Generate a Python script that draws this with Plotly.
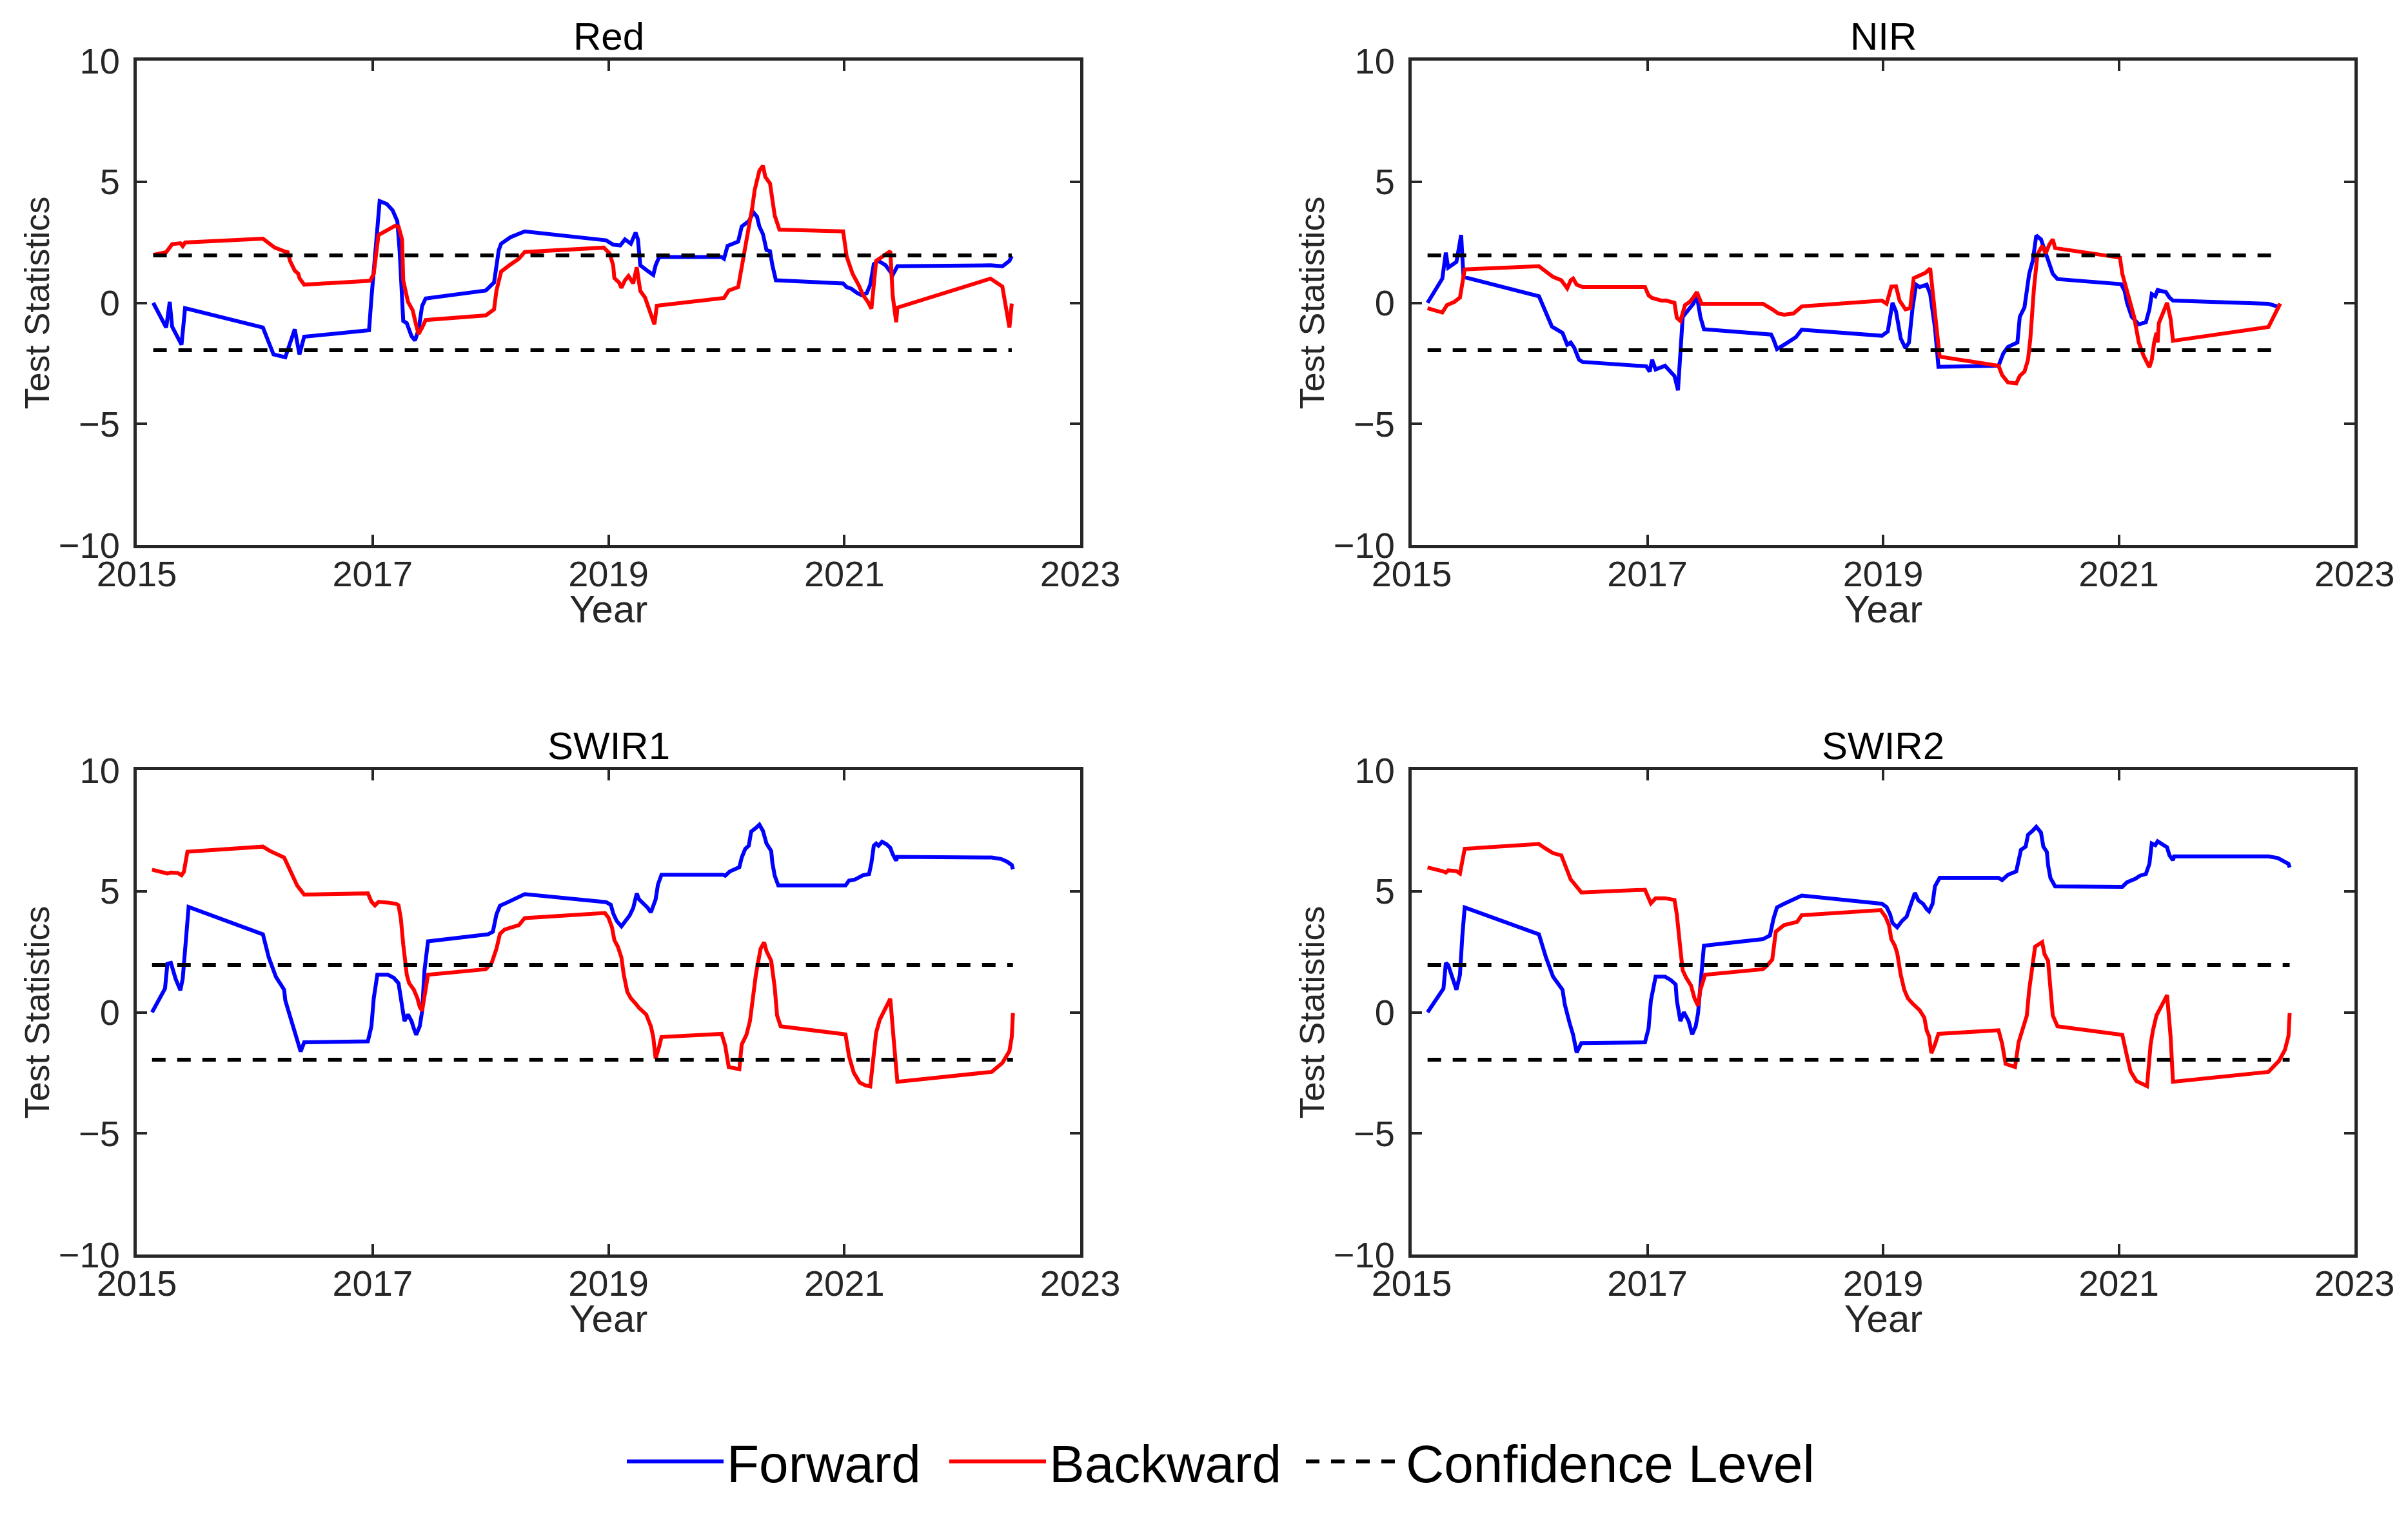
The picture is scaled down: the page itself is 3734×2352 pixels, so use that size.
import plotly.graph_objects as go

# ---------------- data (decimal year, test statistic) ----------------
PANEL_TITLES = ["Red", "NIR", "SWIR1", "SWIR2"]
SERIES_NAMES = ["Forward", "Backward", "Confidence Level"]
CONFIDENCE_LEVEL = 1.96
X_TICKS = [2015, 2017, 2019, 2021, 2023]
Y_TICKS = [-10, -5, 0, 5, 10]

RED_FORWARD = [
    (2015.14, 0.0), (2015.25, -1.02), (2015.28, 0.04), (2015.30, -0.98), (2015.38, -1.73), (2015.41, -0.22),
    (2016.07, -1.02), (2016.16, -2.13), (2016.26, -2.25), (2016.34, -1.09), (2016.38, -2.13), (2016.42, -1.40),
    (2016.97, -1.13), (2016.99, 0.18), (2017.06, 4.2), (2017.12, 4.08), (2017.17, 3.82), (2017.21, 3.37),
    (2017.23, 2.09), (2017.26, -0.75), (2017.29, -0.84), (2017.33, -1.38), (2017.36, -1.55), (2017.39, -1.11),
    (2017.42, -0.13), (2017.45, 0.18), (2017.96, 0.51), (2018.03, 0.84), (2018.07, 2.18), (2018.09, 2.44),
    (2018.17, 2.71), (2018.29, 2.95), (2018.98, 2.58), (2019.04, 2.4), (2019.10, 2.37), (2019.14, 2.62),
    (2019.19, 2.44), (2019.23, 2.9), (2019.25, 2.62), (2019.27, 1.55), (2019.34, 1.29), (2019.38, 1.15),
    (2019.40, 1.55), (2019.43, 1.89), (2019.96, 1.89), (2019.98, 1.82), (2020.01, 2.35), (2020.04, 2.42),
    (2020.10, 2.53), (2020.13, 3.15), (2020.19, 3.37), (2020.23, 3.73), (2020.26, 3.55), (2020.28, 3.15),
    (2020.31, 2.84), (2020.34, 2.18), (2020.37, 2.13), (2020.39, 1.55), (2020.42, 0.93), (2020.99, 0.8),
    (2021.02, 0.65), (2021.06, 0.58), (2021.11, 0.40), (2021.15, 0.31), (2021.19, 0.40), (2021.22, 0.75),
    (2021.25, 1.6), (2021.29, 1.73), (2021.35, 1.55), (2021.41, 1.15), (2021.45, 1.51), (2022.24, 1.55),
    (2022.34, 1.51), (2022.40, 1.73), (2022.42, 1.93),
]
RED_BACKWARD = [
    (2015.14, 1.98), (2015.25, 2.09), (2015.30, 2.42), (2015.37, 2.46), (2015.39, 2.34), (2015.41, 2.49),
    (2016.07, 2.65), (2016.17, 2.28), (2016.25, 2.13), (2016.28, 2.09), (2016.30, 1.73), (2016.34, 1.33),
    (2016.37, 1.2), (2016.38, 1.02), (2016.42, 0.75), (2016.98, 0.91), (2017.01, 1.2), (2017.05, 2.8),
    (2017.19, 3.18), (2017.22, 3.15), (2017.25, 2.62), (2017.26, 0.93), (2017.30, 0.04), (2017.34, -0.31),
    (2017.37, -0.93), (2017.39, -1.29), (2017.42, -1.02), (2017.45, -0.71), (2017.96, -0.52), (2018.03, -0.27),
    (2018.05, 0.49), (2018.09, 1.29), (2018.16, 1.55), (2018.24, 1.82), (2018.29, 2.1), (2018.96, 2.28),
    (2019.01, 2.04), (2019.04, 1.55), (2019.05, 1.02), (2019.09, 0.84), (2019.11, 0.62), (2019.14, 0.93),
    (2019.17, 1.11), (2019.21, 0.80), (2019.24, 1.47), (2019.27, 0.49), (2019.31, 0.22), (2019.35, -0.40),
    (2019.39, -0.89), (2019.41, -0.12), (2019.98, 0.20), (2020.02, 0.51), (2020.10, 0.65), (2020.13, 1.47),
    (2020.16, 2.26), (2020.19, 3.06), (2020.22, 3.95), (2020.24, 4.66), (2020.28, 5.46), (2020.31, 5.66),
    (2020.33, 5.2), (2020.37, 4.93), (2020.39, 4.22), (2020.41, 3.6), (2020.45, 3.02), (2020.99, 2.95),
    (2021.02, 1.91), (2021.07, 1.2), (2021.12, 0.75), (2021.16, 0.31), (2021.20, 0.04), (2021.23, -0.24),
    (2021.27, 1.73), (2021.33, 1.93), (2021.39, 2.13), (2021.41, 0.31), (2021.44, -0.8), (2021.45, -0.2),
    (2022.24, 1.0), (2022.34, 0.67), (2022.40, -1.02), (2022.42, -0.03),
]

NIR_FORWARD = [
    (2015.135, 0.0), (2015.26, 1.0), (2015.29, 2.07), (2015.31, 1.45), (2015.38, 1.69), (2015.42, 2.80),
    (2015.44, 1.07), (2016.08, 0.27), (2016.19, -0.98), (2016.28, -1.24), (2016.32, -1.73), (2016.35, -1.64),
    (2016.38, -1.86), (2016.42, -2.35), (2016.45, -2.44), (2016.99, -2.62), (2017.02, -2.84), (2017.04, -2.35),
    (2017.07, -2.75), (2017.15, -2.6), (2017.23, -3.02), (2017.26, -3.61), (2017.30, -0.58), (2017.34, -0.36),
    (2017.39, -0.04), (2017.42, 0.29), (2017.45, -0.58), (2017.48, -1.09), (2018.05, -1.31), (2018.07, -1.51),
    (2018.10, -1.91), (2018.19, -1.64), (2018.26, -1.42), (2018.31, -1.11), (2018.99, -1.36), (2019.04, -1.18),
    (2019.06, -0.44), (2019.08, 0.0), (2019.11, -0.36), (2019.15, -1.47), (2019.19, -1.87), (2019.22, -1.64),
    (2019.25, -0.22), (2019.28, 0.75), (2019.31, 0.65), (2019.37, 0.75), (2019.40, 0.36), (2019.44, -1.02),
    (2019.47, -2.64), (2019.98, -2.6), (2020.02, -2.09), (2020.06, -1.82), (2020.14, -1.64), (2020.16, -0.58),
    (2020.20, -0.18), (2020.24, 1.2), (2020.27, 1.73), (2020.30, 2.78), (2020.34, 2.62), (2020.38, 2.09),
    (2020.40, 1.73), (2020.44, 1.2), (2020.48, 0.98), (2021.02, 0.77), (2021.05, 0.49), (2021.07, 0.0),
    (2021.11, -0.58), (2021.17, -0.89), (2021.23, -0.8), (2021.26, -0.27), (2021.28, 0.36), (2021.31, 0.27),
    (2021.33, 0.53), (2021.40, 0.44), (2021.43, 0.22), (2021.46, 0.09), (2022.27, -0.04), (2022.37, -0.18),
]
NIR_BACKWARD = [
    (2015.135, -0.22), (2015.26, -0.40), (2015.30, -0.09), (2015.36, 0.03), (2015.41, 0.22), (2015.43, 0.75),
    (2015.45, 1.38), (2016.08, 1.51), (2016.14, 1.29), (2016.20, 1.07), (2016.27, 0.93), (2016.32, 0.6),
    (2016.35, 0.93), (2016.37, 1.0), (2016.40, 0.75), (2016.45, 0.65), (2016.98, 0.65), (2017.01, 0.31),
    (2017.04, 0.20), (2017.12, 0.09), (2017.16, 0.09), (2017.23, 0.0), (2017.25, -0.62), (2017.28, -0.75),
    (2017.32, -0.09), (2017.36, 0.04), (2017.39, 0.22), (2017.42, 0.44), (2017.46, -0.04), (2017.98, -0.04),
    (2018.06, -0.27), (2018.11, -0.44), (2018.16, -0.49), (2018.24, -0.44), (2018.31, -0.15), (2018.99, 0.09),
    (2019.03, -0.04), (2019.07, 0.67), (2019.11, 0.68), (2019.14, 0.09), (2019.19, -0.27), (2019.23, -0.22),
    (2019.26, 1.02), (2019.31, 1.13), (2019.36, 1.24), (2019.40, 1.42), (2019.42, 0.49), (2019.45, -1.02),
    (2019.48, -2.22), (2019.98, -2.6), (2020.01, -2.98), (2020.06, -3.29), (2020.13, -3.33), (2020.16, -3.02),
    (2020.20, -2.84), (2020.23, -2.35), (2020.25, -1.47), (2020.28, 0.58), (2020.31, 2.0), (2020.35, 2.35),
    (2020.38, 2.04), (2020.41, 2.4), (2020.44, 2.62), (2020.46, 2.26), (2021.01, 1.87), (2021.03, 1.2),
    (2021.06, 0.67), (2021.13, -0.58), (2021.17, -1.64), (2021.21, -2.18), (2021.26, -2.66), (2021.28, -2.35),
    (2021.30, -1.64), (2021.32, -1.24), (2021.33, -1.64), (2021.34, -0.84), (2021.41, 0.0), (2021.44, -0.67),
    (2021.46, -1.57), (2022.27, -1.0), (2022.37, -0.03),
]

SWIR1_FORWARD = [
    (2015.13, 0.0), (2015.21, 0.67), (2015.24, 0.98), (2015.26, 2.0), (2015.29, 2.04), (2015.33, 1.38),
    (2015.37, 0.91), (2015.39, 1.38), (2015.42, 3.15), (2015.44, 4.35), (2016.07, 3.22), (2016.12, 2.26),
    (2016.18, 1.47), (2016.25, 0.93), (2016.26, 0.49), (2016.29, 0.0), (2016.31, -0.44), (2016.34, -0.84),
    (2016.36, -1.24), (2016.39, -1.62), (2016.42, -1.24), (2016.96, -1.2), (2016.99, -0.58), (2017.01, 0.58),
    (2017.04, 1.55), (2017.13, 1.55), (2017.18, 1.42), (2017.22, 1.2), (2017.24, 0.58), (2017.27, -0.36),
    (2017.30, -0.09), (2017.33, -0.36), (2017.35, -0.67), (2017.37, -0.93), (2017.40, -0.58), (2017.42, 0.04),
    (2017.44, 1.73), (2017.47, 2.93), (2017.98, 3.22), (2018.02, 3.33), (2018.05, 4.04), (2018.08, 4.40),
    (2018.14, 4.53), (2018.29, 4.88), (2018.98, 4.55), (2019.02, 4.44), (2019.04, 4.09), (2019.07, 3.77),
    (2019.11, 3.55), (2019.15, 3.82), (2019.18, 4.0), (2019.21, 4.31), (2019.24, 4.91), (2019.26, 4.66),
    (2019.29, 4.53), (2019.33, 4.33), (2019.36, 4.13), (2019.38, 4.35), (2019.40, 4.66), (2019.42, 5.28),
    (2019.45, 5.68), (2019.97, 5.68), (2019.99, 5.64), (2020.03, 5.82), (2020.07, 5.89), (2020.11, 5.99),
    (2020.13, 6.39), (2020.16, 6.75), (2020.19, 6.88), (2020.21, 7.46), (2020.25, 7.61), (2020.28, 7.75),
    (2020.31, 7.49), (2020.34, 6.97), (2020.38, 6.66), (2020.39, 6.17), (2020.41, 5.64), (2020.44, 5.24),
    (2021.01, 5.24), (2021.04, 5.44), (2021.09, 5.48), (2021.16, 5.66), (2021.21, 5.71), (2021.23, 6.17),
    (2021.25, 6.88), (2021.27, 6.97), (2021.29, 6.88), (2021.32, 7.04), (2021.36, 6.93), (2021.39, 6.79),
    (2021.41, 6.53), (2021.44, 6.26), (2021.45, 6.42), (2022.25, 6.39), (2022.33, 6.33), (2022.38, 6.22),
    (2022.42, 6.08), (2022.43, 5.91),
]
SWIR1_BACKWARD = [
    (2015.13, 5.89), (2015.21, 5.80), (2015.26, 5.73), (2015.29, 5.77), (2015.35, 5.75), (2015.38, 5.66),
    (2015.40, 5.80), (2015.43, 6.63), (2016.07, 6.84), (2016.13, 6.66), (2016.19, 6.51), (2016.25, 6.39),
    (2016.28, 6.08), (2016.31, 5.73), (2016.34, 5.39), (2016.36, 5.24), (2016.38, 5.11), (2016.42, 4.86),
    (2016.96, 4.91), (2016.99, 4.57), (2017.02, 4.41), (2017.05, 4.56), (2017.13, 4.53), (2017.20, 4.48),
    (2017.22, 4.42), (2017.24, 3.86), (2017.26, 2.80), (2017.29, 1.55), (2017.31, 1.2), (2017.35, 0.93),
    (2017.38, 0.58), (2017.40, 0.22), (2017.42, 0.06), (2017.44, 0.75), (2017.47, 1.55), (2017.96, 1.78),
    (2018.01, 2.04), (2018.05, 2.62), (2018.08, 3.24), (2018.12, 3.42), (2018.24, 3.60), (2018.29, 3.89),
    (2018.97, 4.10), (2019.00, 3.91), (2019.03, 3.51), (2019.05, 2.98), (2019.08, 2.71), (2019.11, 2.26),
    (2019.13, 1.55), (2019.16, 0.84), (2019.19, 0.58), (2019.23, 0.36), (2019.26, 0.18), (2019.32, -0.09),
    (2019.36, -0.58), (2019.38, -1.02), (2019.40, -1.91), (2019.43, -1.42), (2019.45, -1.02), (2019.96, -0.89),
    (2019.99, -1.38), (2020.02, -2.26), (2020.11, -2.35), (2020.13, -1.33), (2020.17, -0.93), (2020.20, -0.36),
    (2020.23, 0.75), (2020.25, 1.55), (2020.29, 2.62), (2020.32, 2.89), (2020.34, 2.53), (2020.38, 2.13),
    (2020.41, 1.02), (2020.43, -0.13), (2020.46, -0.58), (2021.01, -0.91), (2021.04, -1.82), (2021.08, -2.49),
    (2021.13, -2.9), (2021.18, -3.02), (2021.22, -3.06), (2021.25, -1.47), (2021.27, -0.84), (2021.30, -0.31),
    (2021.39, 0.56), (2021.42, -1.2), (2021.45, -2.87), (2022.25, -2.46), (2022.34, -2.09), (2022.40, -1.6),
    (2022.42, -1.02), (2022.43, -0.03),
]

SWIR2_FORWARD = [
    (2015.135, 0.0), (2015.21, 0.53), (2015.27, 0.98), (2015.29, 2.04), (2015.31, 1.95), (2015.38, 0.93),
    (2015.41, 1.55), (2015.43, 3.15), (2015.45, 4.33), (2016.08, 3.22), (2016.14, 2.26), (2016.20, 1.47),
    (2016.28, 0.93), (2016.30, 0.31), (2016.32, 0.0), (2016.34, -0.44), (2016.37, -0.93), (2016.40, -1.66),
    (2016.44, -1.27), (2016.98, -1.24), (2017.01, -0.67), (2017.03, 0.49), (2017.07, 1.47), (2017.15, 1.47),
    (2017.20, 1.33), (2017.24, 1.15), (2017.25, 0.49), (2017.28, -0.36), (2017.31, 0.0), (2017.35, -0.36),
    (2017.38, -0.91), (2017.41, -0.58), (2017.43, -0.04), (2017.45, 1.02), (2017.48, 2.75), (2017.98, 3.02),
    (2018.04, 3.17), (2018.07, 3.86), (2018.10, 4.33), (2018.16, 4.48), (2018.31, 4.82), (2018.99, 4.48),
    (2019.03, 4.35), (2019.06, 4.04), (2019.08, 3.69), (2019.12, 3.51), (2019.16, 3.77), (2019.20, 3.95),
    (2019.23, 4.40), (2019.27, 4.93), (2019.30, 4.62), (2019.34, 4.48), (2019.37, 4.26), (2019.39, 4.17),
    (2019.42, 4.48), (2019.44, 5.2), (2019.48, 5.55), (2019.98, 5.55), (2020.01, 5.46), (2020.06, 5.68),
    (2020.13, 5.82), (2020.15, 6.26), (2020.17, 6.71), (2020.21, 6.84), (2020.23, 7.33), (2020.27, 7.50),
    (2020.30, 7.66), (2020.34, 7.42), (2020.36, 6.84), (2020.39, 6.62), (2020.40, 6.08), (2020.42, 5.55),
    (2020.46, 5.2), (2021.03, 5.18), (2021.07, 5.37), (2021.14, 5.51), (2021.18, 5.64), (2021.23, 5.71),
    (2021.26, 6.13), (2021.28, 6.97), (2021.31, 6.9), (2021.33, 7.06), (2021.38, 6.93), (2021.41, 6.81),
    (2021.43, 6.48), (2021.46, 6.28), (2021.47, 6.44), (2022.27, 6.44), (2022.35, 6.37), (2022.40, 6.24),
    (2022.44, 6.13), (2022.45, 5.98),
]
SWIR2_BACKWARD = [
    (2015.135, 5.98), (2015.21, 5.91), (2015.26, 5.83), (2015.29, 5.77), (2015.31, 5.86), (2015.38, 5.83),
    (2015.41, 5.73), (2015.45, 6.75), (2016.08, 6.95), (2016.13, 6.78), (2016.20, 6.57), (2016.27, 6.48),
    (2016.30, 6.13), (2016.33, 5.77), (2016.35, 5.48), (2016.37, 5.37), (2016.44, 4.95), (2016.98, 5.06),
    (2017.01, 4.71), (2017.03, 4.50), (2017.07, 4.71), (2017.15, 4.71), (2017.23, 4.64), (2017.25, 4.04),
    (2017.28, 2.62), (2017.30, 1.73), (2017.33, 1.42), (2017.37, 1.11), (2017.40, 0.58), (2017.43, 0.27),
    (2017.45, 0.93), (2017.49, 1.55), (2017.98, 1.78), (2018.02, 1.95), (2018.06, 2.18), (2018.09, 3.33),
    (2018.16, 3.6), (2018.27, 3.73), (2018.31, 4.01), (2018.98, 4.22), (2019.02, 3.95), (2019.05, 3.6),
    (2019.07, 3.02), (2019.10, 2.75), (2019.12, 2.44), (2019.15, 1.55), (2019.18, 0.93), (2019.21, 0.58),
    (2019.25, 0.36), (2019.31, 0.09), (2019.35, -0.22), (2019.37, -0.75), (2019.39, -0.98), (2019.41, -1.69),
    (2019.44, -1.33), (2019.47, -0.89), (2019.98, -0.74), (2020.01, -1.29), (2020.04, -2.13), (2020.12, -2.26),
    (2020.15, -1.24), (2020.19, -0.67), (2020.22, -0.13), (2020.24, 0.93), (2020.27, 2.09), (2020.29, 2.71),
    (2020.35, 2.9), (2020.37, 2.4), (2020.40, 2.13), (2020.42, 1.02), (2020.44, -0.13), (2020.48, -0.58),
    (2021.03, -0.93), (2021.07, -1.82), (2021.10, -2.44), (2021.15, -2.84), (2021.20, -2.98), (2021.24, -3.05),
    (2021.27, -1.33), (2021.29, -0.75), (2021.32, -0.13), (2021.41, 0.71), (2021.44, -1.02), (2021.46, -2.87),
    (2022.27, -2.46), (2022.36, -2.0), (2022.41, -1.55), (2022.44, -0.98), (2022.45, -0.03),
]

PANEL_DATA = [
    (RED_FORWARD, RED_BACKWARD),
    (NIR_FORWARD, NIR_BACKWARD),
    (SWIR1_FORWARD, SWIR1_BACKWARD),
    (SWIR2_FORWARD, SWIR2_BACKWARD),
]

# ---------------- layout geometry ----------------
W, H = 3734, 2352
X_DOMAINS = [[204 / W, 1667 / W], [2181 / W, 3643 / W]]
Y_DOMAINS = [[1 - 837 / H, 1 - 86 / H], [1 - 1937 / H, 1 - 1186 / H]]
FONT = "Liberation Sans, Arial, Helvetica, sans-serif"
AXIS_COLOR = "#262626"
BLUE = "#0000FF"
RED = "#FF0000"
LEGEND_KEYS = ["legend", "legend2", "legend3"]
LEGEND_X = [959 / W, 1459 / W, 2012 / W]

fig = go.Figure()
annotations = []

for i, (title, (fwd, bwd)) in enumerate(zip(PANEL_TITLES, PANEL_DATA)):
    row, col = divmod(i, 2)
    n = i + 1
    xa = "x" if n == 1 else f"x{n}"
    ya = "y" if n == 1 else f"y{n}"
    first = i == 0

    fig.add_trace(go.Scatter(
        x=[p[0] for p in fwd], y=[p[1] for p in fwd], xaxis=xa, yaxis=ya,
        mode="lines", line=dict(color=BLUE, width=6), name=SERIES_NAMES[0],
        legend=LEGEND_KEYS[0], legendgroup="f", showlegend=first))
    fig.add_trace(go.Scatter(
        x=[p[0] for p in bwd], y=[p[1] for p in bwd], xaxis=xa, yaxis=ya,
        mode="lines", line=dict(color=RED, width=6), name=SERIES_NAMES[1],
        legend=LEGEND_KEYS[1], legendgroup="b", showlegend=first))
    x0, x1 = fwd[0][0], fwd[-1][0]
    for k, lvl in enumerate([CONFIDENCE_LEVEL, -CONFIDENCE_LEVEL]):
        fig.add_trace(go.Scatter(
            x=[x0, x1], y=[lvl, lvl], xaxis=xa, yaxis=ya, mode="lines",
            line=dict(color="black", width=6, dash="21px,18px"),
            name=SERIES_NAMES[2], legend=LEGEND_KEYS[2], legendgroup="c",
            showlegend=(first and k == 0)))

    axis_common = dict(
        showline=True, linecolor=AXIS_COLOR, linewidth=5, mirror="ticks",
        ticks="inside", ticklen=16, tickwidth=4, tickcolor=AXIS_COLOR,
        showgrid=False, zeroline=False, automargin=False,
        tickfont=dict(family=FONT, size=56, color=AXIS_COLOR),
    )
    xkey = "xaxis" if n == 1 else f"xaxis{n}"
    ykey = "yaxis" if n == 1 else f"yaxis{n}"
    fig.update_layout({
        xkey: dict(axis_common, domain=X_DOMAINS[col], anchor=ya, range=[2015, 2023],
                   tickmode="array", tickvals=X_TICKS, ticklabelstandoff=-8),
        ykey: dict(axis_common, domain=Y_DOMAINS[row], anchor=xa, range=[-10, 10],
                   tickmode="array", tickvals=Y_TICKS, ticklabelstandoff=10),
    })

    xc = sum(X_DOMAINS[col]) / 2
    yc = sum(Y_DOMAINS[row]) / 2
    annotations.append(dict(text=title, x=xc, y=Y_DOMAINS[row][1], xref="paper", yref="paper",
                            xanchor="center", yanchor="bottom", yshift=2, showarrow=False,
                            font=dict(family=FONT, size=60, color="black")))
    annotations.append(dict(text="Year", x=xc, y=Y_DOMAINS[row][0], xref="paper", yref="paper",
                            xanchor="center", yanchor="middle", yshift=-99, showarrow=False,
                            font=dict(family=FONT, size=60, color=AXIS_COLOR)))
    annotations.append(dict(text="Test Statistics", x=X_DOMAINS[col][0], y=yc, xref="paper",
                            yref="paper", xanchor="center", yanchor="middle", xshift=-156,
                            textangle=-90, showarrow=False,
                            font=dict(family=FONT, size=54, color=AXIS_COLOR)))

legend_style = dict(orientation="h", y=1 - 2258 / H, xanchor="left", yanchor="middle",
                    font=dict(family=FONT, size=82, color="black"), itemwidth=150,
                    bgcolor="rgba(0,0,0,0)")
fig.update_layout(
    width=W, height=H,
    margin=dict(l=0, r=0, t=0, b=0, autoexpand=False),
    paper_bgcolor="white", plot_bgcolor="white",
    annotations=annotations,
    showlegend=True,
    legend=dict(legend_style, x=LEGEND_X[0]),
    legend2=dict(legend_style, x=LEGEND_X[1]),
    legend3=dict(legend_style, x=LEGEND_X[2]),
)

fig.write_html("out.html")
